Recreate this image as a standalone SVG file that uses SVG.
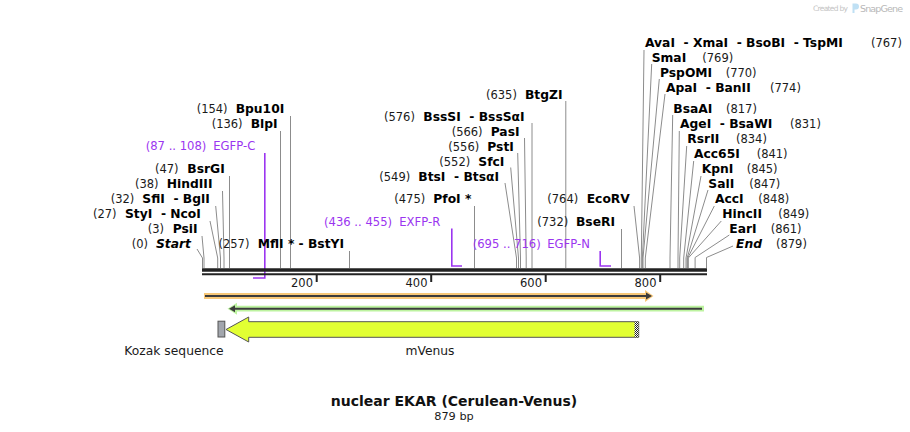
<svg xmlns="http://www.w3.org/2000/svg" width="910" height="432" viewBox="0 0 910 432">
<style>
text{font-family:"DejaVu Sans",Verdana,sans-serif;white-space:pre}
.n{font-size:11.5px;fill:#1a1a1a}
.b{font-size:12.3px;font-weight:bold;fill:#000}
.bi{font-size:12.3px;font-weight:bold;font-style:italic;fill:#000}
.p{font-size:11.6px;fill:#9b35f0}
.ld{fill:none;stroke:#8c8c8c;stroke-width:1}
.pl{fill:none;stroke:#9b35f0;stroke-width:1.6}
.tk{font-size:11.5px;fill:#1a1a1a;text-anchor:end}
</style>
<defs>
<pattern id="dots" width="2" height="2" patternUnits="userSpaceOnUse"><rect width="2" height="2" fill="#fff"/><rect width="1" height="1" fill="#222"/><rect x="1" y="1" width="1" height="1" fill="#222"/></pattern>
</defs>
<rect width="910" height="432" fill="#fff"/>

<!-- logo -->
<g id="logo">
<text x="813" y="10.5" style="font-size:7.5px;fill:#c4c4c4" textLength="35">Created by</text>
<path d="M852.5 3.5 h3.5 a3 3 0 0 1 0 6 h-1.5 v3.5 h-2 z" fill="#bfe0f4"/>
<text x="860" y="11.5" style="font-size:9.5px;fill:#b8b8b8" textLength="43">SnapGene</text>
</g>

<!-- connectors: leader lines -->
<g id="connectors">
<polyline class="ld" points="202.5,268 202.5,258 197,249"/>
<polyline class="ld" points="204,268 204,258 202,236"/>
<polyline class="ld" points="217.7,268 217.7,258 210,221"/>
<polyline class="ld" points="220.5,268 220.5,258 215.7,206"/>
<polyline class="ld" points="224,268 224,258 222.5,191"/>
<polyline class="ld" points="229.5,268 229.5,176"/>
<polyline class="ld" points="280.5,268 280.5,131"/>
<polyline class="ld" points="290.5,268 290.5,116"/>
<polyline class="ld" points="349.5,268 349.5,251"/>
<polyline class="ld" points="474.5,268 474.5,206"/>
<polyline class="ld" points="516.5,268 516.5,258 505,183"/>
<polyline class="ld" points="518.5,268 518.5,258 510.7,167.5"/>
<polyline class="ld" points="520.5,268 520.5,258 517.7,153"/>
<polyline class="ld" points="526.2,268 526.2,258 524.5,138"/>
<polyline class="ld" points="532,268 532,123"/>
<polyline class="ld" points="565.8,268 565.8,101"/>
<polyline class="ld" points="621.5,268 621.5,229"/>
<polyline class="ld" points="639.6,268 639.6,258 634,206"/>
<polyline class="ld" points="641.3,268 641.3,258 644,50"/>
<polyline class="ld" points="642.4,268 642.4,258 651.7,64"/>
<polyline class="ld" points="643,268 643,258 659.3,79"/>
<polyline class="ld" points="645.3,268 645.3,258 665,94"/>
<polyline class="ld" points="670,268 670,258 672.7,115"/>
<polyline class="ld" points="678,268 678,258 679.3,131"/>
<polyline class="ld" points="679.7,268 679.7,258 686.7,146"/>
<polyline class="ld" points="683.7,268 683.7,258 693.7,161"/>
<polyline class="ld" points="686,268 686,258 701,176"/>
<polyline class="ld" points="687.1,268 687.1,258 708,190"/>
<polyline class="ld" points="687.7,268 687.7,258 714.3,206"/>
<polyline class="ld" points="688.3,268 688.3,258 721.3,221"/>
<polyline class="ld" points="695.1,268 695.1,257.5 729.3,235"/>
<polyline class="ld" points="706.5,268 706.5,257.5 733,246"/>
<!-- primers -->
<polyline class="pl" points="253,278 264.8,278 264.8,153"/>
<polyline class="pl" points="451.8,228.5 451.8,266 462,266"/>
<polyline class="pl" points="600.2,251 600.2,266 611,266"/>
</g>

<!-- sequence bar -->
<g id="sequence">
<line x1="202" y1="270" x2="707" y2="270" stroke="#222" stroke-width="3.4"/>
<line x1="202" y1="274.3" x2="707" y2="274.3" stroke="#222" stroke-width="2"/>
<g stroke="#222" stroke-width="2">
<line x1="316.7" y1="275" x2="316.7" y2="282"/>
<line x1="431.2" y1="275" x2="431.2" y2="282"/>
<line x1="545.7" y1="275" x2="545.7" y2="282"/>
<line x1="660.2" y1="275" x2="660.2" y2="282"/>
</g>
<text class="tk" x="313" y="287">200</text>
<text class="tk" x="427.5" y="287">400</text>
<text class="tk" x="542" y="287">600</text>
<text class="tk" x="656.5" y="287">800</text>
</g>

<!-- features -->
<g id="orf-forward">
<path d="M204 296 H646" stroke="#f8c878" stroke-width="5.8" fill="none"/>
<path d="M645 290 L653.5 296 L645 302 Z" fill="#f8c878"/>
<path d="M205 296 H647" stroke="#3c3c3c" stroke-width="2" fill="none"/>
<path d="M646 292.5 L652 296 L646 299.5 Z" fill="#3c3c3c"/>
</g>
<g id="orf-reverse">
<path d="M236 308.7 H704" stroke="#bdf3a0" stroke-width="5.8" fill="none"/>
<path d="M237 302.7 L227.5 308.7 L237 314.7 Z" fill="#bdf3a0"/>
<path d="M235 308.7 H702" stroke="#3c3c3c" stroke-width="2" fill="none"/>
<path d="M235 305.2 L229 308.7 L235 312.2 Z" fill="#3c3c3c"/>
</g>
<g id="mVenus">
<path d="M226 329.5 L248.7 317 V321.7 H638.7 V337.3 H248.7 V342 Z" fill="#e2ff33" stroke="#555" stroke-width="1"/>
<rect x="634.5" y="321.7" width="4" height="15.6" fill="url(#dots)"/>
<text x="430" y="355" style="font-size:12.3px;fill:#1a1a1a;text-anchor:middle">mVenus</text>
</g>
<g id="kozak">
<rect x="218" y="321.2" width="6.8" height="15.8" fill="#a2a6ad" stroke="#555" stroke-width="1"/>
<text x="174" y="355" style="font-size:12.3px;fill:#1a1a1a;text-anchor:middle">Kozak sequence</text>
</g>

<!-- left labels -->
<g id="Start"><text class="n" x="131.7" y="248">(0)</text><text class="bi" x="156" y="248">Start</text></g>
<g id="PsiI"><text class="n" x="147.7" y="233">(3)</text><text class="b" x="172.7" y="233">PsiI</text></g>
<g id="StyI-NcoI"><text class="n" x="93" y="218">(27)</text><text class="b" x="125" y="218">StyI  - NcoI</text></g>
<g id="SfiI-BglI"><text class="n" x="110.7" y="203">(32)</text><text class="b" x="142.3" y="203">SfiI  - BglI</text></g>
<g id="HindIII"><text class="n" x="135" y="188">(38)</text><text class="b" x="166.7" y="188">HindIII</text></g>
<g id="BsrGI"><text class="n" x="155" y="173">(47)</text><text class="b" x="187.3" y="173">BsrGI</text></g>
<g id="EGFP-C"><text class="p" x="145.7" y="150">(87 .. 108)</text><text class="p" x="213.3" y="150">EGFP-C</text></g>
<g id="BlpI"><text class="n" x="211.7" y="128">(136)</text><text class="b" x="250.7" y="128">BlpI</text></g>
<g id="Bpu10I"><text class="n" x="196.7" y="113">(154)</text><text class="b" x="235.7" y="113">Bpu10I</text></g>

<!-- middle labels -->
<g id="MflI-BstYI"><text class="n" x="218.5" y="248">(257)</text><text class="b" x="257.7" y="248">MflI * - BstYI</text></g>
<g id="EXFP-R"><text class="p" x="324" y="226">(436 .. 455)</text><text class="p" x="399.3" y="226">EXFP-R</text></g>
<g id="PfoI"><text class="n" x="394.3" y="203">(475)</text><text class="b" x="433.3" y="203">PfoI *</text></g>
<g id="BtsI"><text class="n" x="379.3" y="181">(549)</text><text class="b" x="418.3" y="181">BtsI  - BtsαI</text></g>
<g id="SfcI"><text class="n" x="439.3" y="166">(552)</text><text class="b" x="478.3" y="166">SfcI</text></g>
<g id="PstI"><text class="n" x="448.3" y="151">(556)</text><text class="b" x="487.3" y="151">PstI</text></g>
<g id="PasI"><text class="n" x="451.7" y="136">(566)</text><text class="b" x="490.7" y="136">PasI</text></g>
<g id="BssSI"><text class="n" x="384" y="121">(576)</text><text class="b" x="423.3" y="121">BssSI  - BssSαI</text></g>
<g id="BtgZI"><text class="n" x="486" y="98.5">(635)</text><text class="b" x="525" y="98.5">BtgZI</text></g>
<g id="EGFP-N"><text class="p" x="472.7" y="248">(695 .. 716)</text><text class="p" x="547.3" y="248">EGFP-N</text></g>
<g id="BseRI"><text class="n" x="537.3" y="226">(732)</text><text class="b" x="576" y="226">BseRI</text></g>
<g id="EcoRV"><text class="n" x="547.3" y="203">(764)</text><text class="b" x="586.7" y="203">EcoRV</text></g>

<!-- right labels -->
<g id="AvaI"><text class="b" x="645" y="47">AvaI  - XmaI  - BsoBI  - TspMI</text><text class="n" x="871" y="47">(767)</text></g>
<g id="SmaI"><text class="b" x="651.7" y="62">SmaI</text><text class="n" x="702.3" y="62">(769)</text></g>
<g id="PspOMI"><text class="b" x="660" y="77">PspOMI</text><text class="n" x="725.7" y="77">(770)</text></g>
<g id="ApaI"><text class="b" x="666" y="92">ApaI  - BanII</text><text class="n" x="770" y="92">(774)</text></g>
<g id="BsaAI"><text class="b" x="673.3" y="113">BsaAI</text><text class="n" x="726" y="113">(817)</text></g>
<g id="AgeI"><text class="b" x="680" y="128">AgeI  - BsaWI</text><text class="n" x="790" y="128">(831)</text></g>
<g id="RsrII"><text class="b" x="687.3" y="143">RsrII</text><text class="n" x="736" y="143">(834)</text></g>
<g id="Acc65I"><text class="b" x="694" y="158">Acc65I</text><text class="n" x="756.7" y="158">(841)</text></g>
<g id="KpnI"><text class="b" x="701.7" y="173">KpnI</text><text class="n" x="746.7" y="173">(845)</text></g>
<g id="SalI"><text class="b" x="708.3" y="188">SalI</text><text class="n" x="749.3" y="188">(847)</text></g>
<g id="AccI"><text class="b" x="715" y="203">AccI</text><text class="n" x="758.3" y="203">(848)</text></g>
<g id="HincII"><text class="b" x="722.3" y="218">HincII</text><text class="n" x="778.3" y="218">(849)</text></g>
<g id="EarI"><text class="b" x="729.3" y="233">EarI</text><text class="n" x="770.7" y="233">(861)</text></g>
<g id="End"><text class="bi" x="736" y="248">End</text><text class="n" x="776" y="248">(879)</text></g>

<!-- title -->
<g id="title">
<text x="454" y="406" style="font-size:14px;font-weight:bold;fill:#111;text-anchor:middle">nuclear EKAR (Cerulean-Venus)</text>
<text x="454" y="419.5" style="font-size:11.3px;fill:#1a1a1a;text-anchor:middle">879 bp</text>
</g>
</svg>
